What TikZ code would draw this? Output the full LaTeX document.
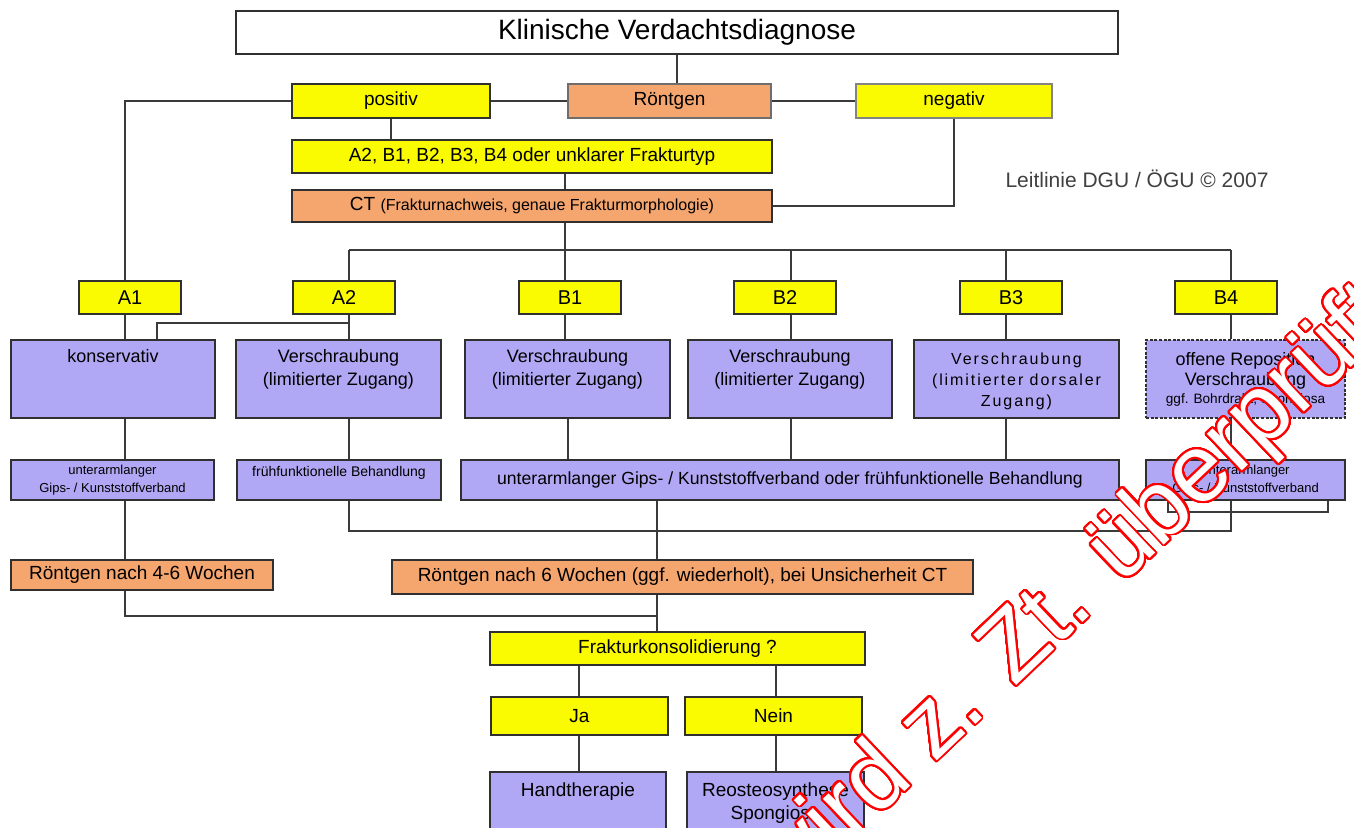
\documentclass[tikz,border=0pt]{standalone}
\usepackage{fontspec}
\setmainfont{Liberation Sans}
\usepackage{contour}
\contournumber{48}
\contourlength{0.95pt}
\usetikzlibrary{calc}
\definecolor{cyel}{HTML}{FAFA00}
\definecolor{corg}{HTML}{F5A56E}
\definecolor{cpur}{HTML}{B0A8F4}
\definecolor{cedge}{HTML}{303030}
\definecolor{cline}{HTML}{3A3A3A}
\newcommand\bx[7]{\node[#2, minimum width={(#5-#3)*0.5pt}, minimum height={(#6-#4)*0.5pt}] (#1) at ({(#3+#5)/2},{(#4+#6)/2}) {#7};}
\newcommand\fs[2]{\fontsize{#1}{#2}\selectfont}
\begin{document}
\begin{tikzpicture}[x=0.5pt,y=-0.5pt,
  box/.style={draw=cedge, line width=0.8pt, inner sep=1pt, align=center, font=\fs{9.5}{11}},
  ybox/.style={box, fill=cyel},
  obox/.style={box, fill=corg},
  pbox/.style={box, fill=cpur},
  wbox/.style={box, fill=white},
  conn/.style={draw=cline, line width=0.7pt},
  txt/.style={inner sep=0pt, align=center, anchor=north}]
\useasboundingbox[fill=white] (0,0) rectangle (1354,828);

% column coordinates
\coordinate (xa1) at (125,0);
\coordinate (xk) at (157,0);
\coordinate (xa2) at (349,0);
\coordinate (xct) at (565,0);
\coordinate (xb1) at (568,0);
\coordinate (xb2) at (791,0);
\coordinate (xb3) at (1006,0);
\coordinate (xb4) at (1231,0);
\coordinate (xm) at (657,0);
\coordinate (xja) at (579,0);
\coordinate (xne) at (776,0);
\coordinate (ybus) at (0,250);
\coordinate (ybr) at (0,323);
\coordinate (yjoin) at (0,531);
\coordinate (ymerge) at (0,616);

% boxes
\bx{title}{wbox, font=\fs{14}{16}}{236}{11}{1118}{54}{\raisebox{-2.5pt}{Klinische Verdachtsdiagnose}}
\bx{pos}{ybox}{292}{84}{490}{118}{positiv}
\bx{roe}{obox, draw=cedge!70}{568}{84}{771}{118}{Röntgen}
\bx{neg}{ybox, draw=cedge!60}{856}{84}{1052}{118}{negativ}
\bx{typ}{ybox}{292}{140}{772}{173}{A2, B1, B2, B3, B4 oder unklarer Frakturtyp}
\bx{ct}{obox}{292}{190}{772}{222}{CT {\fs{8}{9}(Frakturnachweis, genaue Frakturmorphologie)}}
\node[inner sep=0pt, font=\fs{10.5}{12}, text=black!75] (leit) at (1137,179) {Leitlinie DGU / ÖGU © 2007};

\bx{A1}{ybox, font=\fs{10}{11}}{79}{281}{181}{314}{A1}
\bx{A2}{ybox, font=\fs{10}{11}}{293}{281}{395}{314}{A2}
\bx{B1}{ybox, font=\fs{10}{11}}{519}{281}{621}{314}{B1}
\bx{B2}{ybox, font=\fs{10}{11}}{734}{281}{836}{314}{B2}
\bx{B3}{ybox, font=\fs{10}{11}}{960}{281}{1062}{314}{B3}
\bx{B4}{ybox, font=\fs{10}{11}}{1175}{281}{1277}{314}{B4}

\bx{kons}{pbox}{11}{340}{215}{418}{}
\bx{vA2}{pbox}{236}{340}{441}{418}{}
\bx{vB1}{pbox}{465}{340}{670}{418}{}
\bx{vB2}{pbox}{688}{340}{892}{418}{}
\bx{vB3}{pbox}{914}{340}{1119}{418}{}
\bx{vB4}{pbox, dash pattern=on 1.5pt off 0.8pt}{1146}{340}{1345}{418}{}
\node[txt, font=\fs{9}{11.5}] (tkons) at ($(kons.north)+(0,10)$) {konservativ};
\node[txt, font=\fs{9}{11.5}] (tvA2) at ($(vA2.north)+(0,10)$) {Verschraubung\\(limitierter Zugang)};
\node[txt, font=\fs{9}{11.5}] (tvB1) at ($(vB1.north)+(0,10)$) {Verschraubung\\(limitierter Zugang)};
\node[txt, font=\fs{9}{11.5}] (tvB2) at ($(vB2.north)+(0,10)$) {Verschraubung\\(limitierter Zugang)};
\node[txt, font=\fs{8}{10.5}\addfontfeature{LetterSpace=12}] (tvB3) at ($(vB3.north)+(0,13)$) {Verschraubung\\(limitierter dorsaler\\Zugang)};
\node[txt, font=\fs{9}{10}] (tvB4) at ($(vB4.north)+(0,13)$) {offene Reposition\\Verschraubung\\[-1pt]{\fs{6.8}{8}ggf. Bohrdraht, Spongiosa}};

\bx{s1}{pbox, font=\fs{6.5}{9}}{11}{460}{214}{500}{unterarmlanger\\Gips- / Kunststoffverband}
\bx{s2}{pbox}{237}{460}{441}{500}{}
\node[txt, font=\fs{7}{8}] (ts2) at ($(s2.north)+(0,7)$) {frühfunktionelle Behandlung};
\bx{s3}{pbox, font=\fs{8.8}{10}}{461}{460}{1119}{500}{unterarmlanger Gips- / Kunststoffverband oder frühfunktionelle Behandlung}
\bx{s4}{pbox, font=\fs{6.5}{9}}{1146}{460}{1345}{500}{unterarmlanger\\Gips- / Kunststoffverband}

\bx{r46}{obox}{11}{560}{273}{590}{\raisebox{-1pt}{Röntgen nach 4-6 Wochen}}
\bx{r6}{obox}{392}{560}{973}{594}{Röntgen nach 6 Wochen (ggf. wiederholt), bei Unsicherheit CT}
\bx{frak}{ybox}{490}{632}{865}{665}{Frakturkonsolidierung ?}
\bx{ja}{ybox}{491}{697}{668}{735}{Ja}
\bx{nein}{ybox}{685}{697}{862}{735}{Nein}
\bx{hand}{pbox}{490}{772}{666}{840}{}
\bx{reo}{pbox}{687}{772}{864}{840}{}
\node[txt, font=\fs{9.5}{11.5}] (thand) at ($(hand.north)+(0,11)$) {Handtherapie};
\node[txt, font=\fs{9.5}{11.5}] (treo) at ($(reo.north)+(0,11)$) {Reosteosynthese\\Spongiosa};

% connectors
\draw[conn] (title.south) -- (title.south |- roe.north);
\draw[conn] (roe.west) -- (pos.east);
\draw[conn] (roe.east) -- (neg.west);
\draw[conn] (pos.west) -| (A1.north -| xa1);
\draw[conn] (pos.south) -- (pos.south |- typ.north);
\draw[conn] (typ.south -| xct) -- (ct.north -| xct);
\draw[conn] (neg.south) |- (ct.east);
\draw[conn] (ct.south -| xct) -- (xct |- ybus);
\draw[conn] (xa2 |- ybus) -- (xb4 |- ybus);
\draw[conn] (xa2 |- ybus) -- (A2.north -| xa2);
\draw[conn] (xct |- ybus) -- (B1.north -| xct);
\draw[conn] (xb2 |- ybus) -- (B2.north -| xb2);
\draw[conn] (xb3 |- ybus) -- (B3.north -| xb3);
\draw[conn] (xb4 |- ybus) -- (B4.north -| xb4);

\draw[conn] (A1.south -| xa1) -- (kons.north -| xa1);
\draw[conn] (A2.south -| xa2) -- (vA2.north -| xa2);
\draw[conn] (xa2 |- ybr) -- (xk |- ybr) -- (kons.north -| xk);
\draw[conn] (B1.south -| xct) -- (vB1.north -| xct);
\draw[conn] (B2.south -| xb2) -- (vB2.north -| xb2);
\draw[conn] (B3.south -| xb3) -- (vB3.north -| xb3);
\draw[conn] (B4.south -| xb4) -- (vB4.north -| xb4);

\draw[conn] (kons.south -| xa1) -- (s1.north -| xa1);
\draw[conn] (vA2.south -| xa2) -- (s2.north -| xa2);
\draw[conn] (vB1.south -| xb1) -- (s3.north -| xb1);
\draw[conn] (vB2.south -| xb2) -- (s3.north -| xb2);
\draw[conn] (vB3.south -| xb3) -- (s3.north -| xb3);
\draw[conn] (vB4.south -| xb4) -- (s4.north -| xb4);

\draw[conn] (s1.south -| xa1) -- (r46.north -| xa1);
\draw[conn] (s2.south -| xa2) |- (xb4 |- yjoin) -- (s4.south -| xb4);
\draw[conn] (s4.south -| 1168,0) -- (1168,512) -- (1328,512) -- (s4.south -| 1328,0);
\draw[conn] (s3.south -| xm) -- (r6.north -| xm);
\draw[conn] (r46.south -| xa1) |- (xm |- ymerge);
\draw[conn] (r6.south -| xm) -- (frak.north -| xm);
\draw[conn] (frak.south -| xja) -- (ja.north -| xja);
\draw[conn] (frak.south -| xne) -- (nein.north -| xne);
\draw[conn] (ja.south -| xja) -- (hand.north -| xja);
\draw[conn] (nein.south -| xne) -- (reo.north -| xne);

% watermark
\node[rotate=43.5, anchor=base west, inner sep=0pt, font=\fs{48}{48}] (wm) at (787,903)
  {\contour{red}{\textcolor{white}{wird z. Zt. überprüft}}};
\end{tikzpicture}
\end{document}
